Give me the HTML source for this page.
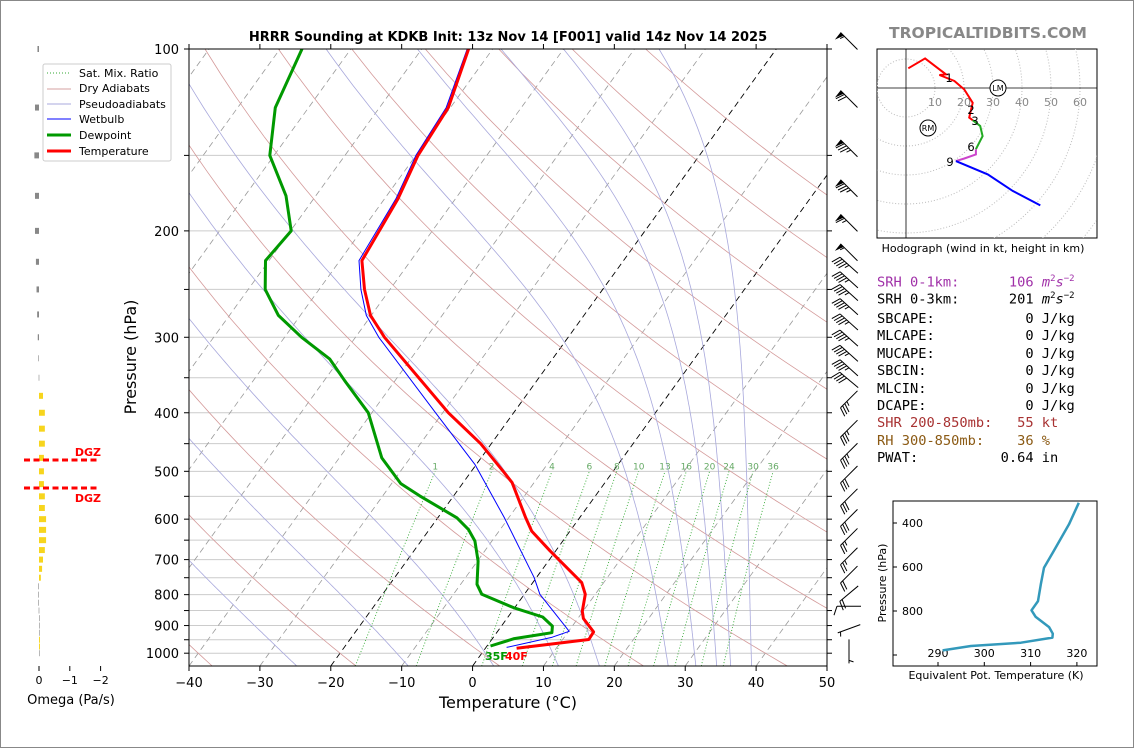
<!DOCTYPE html>
<html><head><meta charset="utf-8">
<style>
html,body{margin:0;padding:0;background:#fff;}
#fig{position:relative;width:1132px;height:746px;border:1px solid #888;overflow:hidden;font-family:"DejaVu Sans","Liberation Sans",sans-serif;}
svg{position:absolute;left:0;top:0;}
.mono{font-family:"DejaVu Sans Mono","Liberation Mono",monospace;font-size:13.7px;white-space:pre;position:absolute;left:876px;line-height:16px;}
</style></head>
<body>
<div id="fig">
<svg id="sv" width="1134" height="748" viewBox="0 0 1134 748">
<defs>
<clipPath id="cp"><rect x="188" y="48" width="638" height="617"/></clipPath>
<clipPath id="hc"><rect x="876" y="48" width="220" height="189"/></clipPath>
</defs>
<text x="507" y="40" text-anchor="middle" font-weight="bold" font-size="13">HRRR Sounding at KDKB Init: 13z Nov 14 [F001] valid 14z Nov 14 2025</text>
<text x="987" y="37" text-anchor="middle" font-weight="bold" font-size="15.5" fill="#888">TROPICALTIDBITS.COM</text>
<text x="507" y="707" text-anchor="middle" font-size="16">Temperature (°C)</text>
<text transform="translate(135,356) rotate(-90)" text-anchor="middle" font-size="16">Pressure (hPa)</text>
<text x="70" y="703" text-anchor="middle" font-size="13">Omega (Pa/s)</text>
<text x="982" y="251" text-anchor="middle" font-size="11">Hodograph (wind in kt, height in km)</text>
<text x="995" y="678" text-anchor="middle" font-size="11">Equivalent Pot. Temperature (K)</text>
<text transform="translate(885,582) rotate(-90)" text-anchor="middle" font-size="11">Pressure (hPa)</text>
<g id="plot" clip-path="url(#cp)"></g>
<g id="axes"></g>
<g id="omega"></g>
<g id="barbs"></g>
<g id="hodo"></g>
<g id="the"></g>
<g id="legend">
<rect x="42" y="63" width="128" height="97" fill="#fff" stroke="#ccc" rx="2"/>
<line x1="46" y1="72" x2="70" y2="72" stroke="#3a3" stroke-dasharray="1,2"/>
<text x="78" y="76" font-size="11">Sat. Mix. Ratio</text>
<line x1="46" y1="88" x2="70" y2="88" stroke="#d4a0a0"/>
<text x="78" y="91" font-size="11">Dry Adiabats</text>
<line x1="46" y1="103" x2="70" y2="103" stroke="#a8a8dc"/>
<text x="78" y="107" font-size="11">Pseudoadiabats</text>
<line x1="46" y1="118" x2="70" y2="118" stroke="#00f"/>
<text x="78" y="122" font-size="11">Wetbulb</text>
<line x1="46" y1="134" x2="70" y2="134" stroke="#090" stroke-width="3"/>
<text x="78" y="138" font-size="11">Dewpoint</text>
<line x1="46" y1="150" x2="70" y2="150" stroke="#f00" stroke-width="3"/>
<text x="78" y="154" font-size="11">Temperature</text>
</g>
</svg>
<div class="mono" style="top:270px;color:#a030a8">SRH 0-1km:      106 <i>m</i><sup style="font-size:9px">2</sup><i>s</i><sup style="font-size:9px">−2</sup></div>
<div class="mono" style="top:287px;color:#000">SRH 0-3km:      201 <i>m</i><sup style="font-size:9px">2</sup><i>s</i><sup style="font-size:9px">−2</sup></div>
<div class="mono" style="top:310px">SBCAPE:           0 J/kg</div>
<div class="mono" style="top:327px">MLCAPE:           0 J/kg</div>
<div class="mono" style="top:345px">MUCAPE:           0 J/kg</div>
<div class="mono" style="top:362px">SBCIN:            0 J/kg</div>
<div class="mono" style="top:380px">MLCIN:            0 J/kg</div>
<div class="mono" style="top:397px">DCAPE:            0 J/kg</div>
<div class="mono" style="top:414px;color:#a83232">SHR 200-850mb:   55 kt</div>
<div class="mono" style="top:432px;color:#8b5a14">RH 300-850mb:    36 %</div>
<div class="mono" style="top:449px">PWAT:          0.64 in</div>
</div>
<script>
// ---- data ----
const tempP = [100,125,150,177,224,250,276,300,400,450,500,522,597,628,677,764,799,852,876,922,949,981];
const tempT = [-63.4,-60.3,-59.7,-58.1,-56.9,-53.6,-50.1,-45.9,-29.2,-21.5,-15.5,-13.1,-7.6,-5.4,-0.8,6.9,8.6,9.9,10.8,13.6,13.7,4.4];
const dewP = [100,125,150,175,200,224,250,276,300,326,354,400,475,524,549,597,624,652,704,769,799,841,871,902,925,946,973];
const dewT = [-86.9,-84.7,-80.6,-74.2,-69.9,-70.5,-67.6,-63.1,-57.6,-51.4,-47.1,-40.5,-34.0,-28.7,-24.8,-17.3,-14.5,-12.4,-9.9,-7.7,-6.0,-0.1,4.9,7.2,7.8,3.1,0.5];
const wbP = [100,125,150,177,224,250,276,300,400,487,597,750,799,920,941,978];
const wbT = [-63.6,-60.6,-60.0,-58.4,-57.3,-54.1,-50.7,-46.7,-31.0,-20.2,-10.6,-0.3,2.2,10.1,8.3,2.9];
const xTicks = [-40,-30,-20,-10,0,10,20,30,40,50];
const pLabels = [100,200,300,400,500,600,700,800,900,1000];
const pGrid = [100,150,200,250,300,350,400,450,500,550,600,650,700,750,800,850,900,950,1000];
const dryT0 = [-40,-20,0,20,40,60,80,100,120,140,160,180];
const moistT0 = [-28,-12,0.5,10,16,26,30,33,35,38];
const mixW = [1,2,4,6,8,10,13,16,20,24,30,36];
const omegaP = [100,125,150,175,200,225,250,275,300,325,350,375,400,425,450,475,500,525,550,575,600,625,650,675,700,725,750,775,800,825,850,875,900,925,950,975,1000];
const omegaV = [0.05,0.13,0.15,0.13,0.13,0.1,0.08,0.06,0.04,0.02,0.01,-0.13,-0.19,-0.19,-0.19,-0.16,-0.16,-0.16,-0.19,-0.19,-0.23,-0.23,-0.23,-0.19,-0.13,-0.1,-0.06,0.02,0.02,0.02,0.01,0,0,0,-0.03,-0.03,0];
const omegaTicks = [0,-1,-2];
const barbP = [97,121,146,170,194,217,228,241,253,267,283,301,319,337,353,380,425,464,506,552,597,642,691,741,797,836,911,993];
const barbSpd = [55,70,85,85,65,55,45,45,45,45,45,45,45,45,40,35,35,35,30,30,30,25,25,20,20,10,5,5];
const barbDir = [315,315,315,315,315,315,312,312,312,312,312,312,312,312,310,225,225,225,225,225,225,225,225,225,230,270,250,180];
const hodoU = [0.8,6.6,13.8,11.5,16.7,20.1,23.0,21.8,23.0];
const hodoV = [6.8,10.2,4.7,4.5,2.4,-0.5,-5.1,-10.2,-11.1];
const hodoGU = [23.0,25.6,26.4,24.1];
const hodoGV = [-11.1,-13.1,-16.6,-21.1];
const hodoMU = [24.1,24.1,20.1,17.2];
const hodoMV = [-21.1,-22.9,-24.3,-25.2];
const hodoBU = [17.2,28.2,36.8,46.3];
const hodoBV = [-25.2,-29.8,-35.5,-40.5];
const ringKt = [10,20,30,40,50,60,70,80];
const ringLabels = [10,20,30,40,50,60];
const theP = [308,406,527,603,679,755,797,827,873,903,921,944,959,979];
const theV = [320.4,318.3,315.0,312.9,312.2,311.6,310.2,311.1,314.0,314.8,314.7,307.9,297.1,291.0];
const theXTicks = [290,300,310,320];
const theYTicks = [400,600,800];

// ---- helpers ----
const NS='http://www.w3.org/2000/svg';
function mk(tag, attrs, parent){const e=document.createElementNS(NS,tag);for(const k in attrs)e.setAttribute(k,attrs[k]);parent.appendChild(e);return e;}
function yP(p){return 48+Math.log10(p/100)/Math.log10(10.5)*617;}
function xT(T,p){return 188+(T+40)*7.089+(665-yP(p))*0.722;}
function path(pts){return pts.map((q,i)=>(i?'L':'M')+q[0].toFixed(1)+','+q[1].toFixed(1)).join('');}
const plot=document.getElementById('plot'), axes=document.getElementById('axes');

// grid
pGrid.forEach(p=>{const l=mk('line',{x1:188,x2:826,y1:yP(p),y2:yP(p),stroke:'#ccc','stroke-width':1},plot);

});
// isotherms
for(let T=-130;T<=50;T+=10){const pts=[[xT(T,1050),665],[xT(T,100),48]];
const l=mk('path',{d:path(pts),stroke:(T===0||T===-20)?'#000':'#999','stroke-width':(T===0||T===-20)?0.9:0.8,'stroke-dasharray':'6,4',fill:'none'},plot);

}
// dry adiabats
dryT0.forEach(t0=>{const th=t0+273.15;const pts=[];for(let p=1050;p>=100;p-=10){pts.push([xT(th*Math.pow(p/1000,0.2857)-273.15,p),yP(p)]);}
const l=mk('path',{d:path(pts),stroke:'#d49a9a','stroke-width':0.8,fill:'none'},plot);

});
// moist adiabats
function es(T){return 6.112*Math.exp(17.67*T/(T+243.5));}
function dTdp(T,p){const TK=T+273.15;const rs=0.622*es(T)/(p-es(T));return (287.04*TK+2.501e6*rs)/(1005.7+2.501e6*2.501e6*rs*0.622/(287.04*TK*TK))/p;}
moistT0.forEach(t0=>{let pts=[];let T=t0;for(let p=1000;p>=100;p-=5){pts.push([xT(T,p),yP(p)]);T-=dTdp(T,p)*5;}
T=t0;const low=[];for(let p=1000;p<=1050;p+=5){low.push([xT(T,p),yP(p)]);T+=dTdp(T,p)*5;}
pts=low.reverse().concat(pts);
const l=mk('path',{d:path(pts),stroke:'#a8a8dc','stroke-width':0.8,fill:'none'},plot);

});
// mixing ratio lines
function tdW(w,p){const e=w*p/(622+w);const L=Math.log(e/6.112);return 243.5*L/(17.67-L);}
mixW.forEach(w=>{const pts=[];for(let p=1050;p>=500;p-=10)pts.push([xT(tdW(w,p),p),yP(p)]);
const l=mk('path',{d:path(pts),stroke:'#3a3','stroke-width':0.9,'stroke-dasharray':'1,2',fill:'none'},plot);


const t=mk('text',{x:xT(tdW(w,500),500),y:yP(500)-2,'font-size':9,fill:'#6a6','text-anchor':'middle'},plot);t.textContent=w;

});
// profiles
function prof(P,T,col,w,name){const pts=P.map((p,i)=>[xT(T[i],p),yP(p)]);
const l=mk('path',{d:path(pts),stroke:col,'stroke-width':w,fill:'none','stroke-linejoin':'round'},plot);

}
prof(wbP,wbT,'#00f',1,'wetbulb-line');
prof(dewP,dewT,'#090',3,'dewpoint-line');
prof(tempP,tempT,'#f00',3,'temperature-line');
{const t=mk('text',{x:484,y:659,'font-size':11,'font-weight':'bold',fill:'#090'},plot);t.textContent='35F';


const t2=mk('text',{x:504,y:659,'font-size':11,'font-weight':'bold',fill:'#f00'},plot);t2.textContent='40F';

}
// axes frame
{const r=mk('rect',{x:188,y:48,width:638,height:617,fill:'none',stroke:'#000','stroke-width':1},axes);

}
xTicks.forEach(T=>{const x=188+(T+40)*7.089;
const l=mk('line',{x1:x,x2:x,y1:665,y2:670,stroke:'#000'},axes);


const l2=mk('line',{x1:x,x2:x,y1:48,y2:43,stroke:'#000'},axes);


const t=mk('text',{x:x,y:686,'font-size':13,'text-anchor':'middle'},axes);t.textContent=(T<0?'−':'')+Math.abs(T);

});
pGrid.forEach(p=>{const y=yP(p);
const l=mk('line',{x1:183,x2:188,y1:y,y2:y,stroke:'#000'},axes);


const l2=mk('line',{x1:826,x2:831,y1:y,y2:y,stroke:'#000'},axes);

});
pLabels.forEach(p=>{const t=mk('text',{x:178,y:yP(p)+5,'font-size':13,'text-anchor':'end'},axes);t.textContent=p;

});
// omega
const om=document.getElementById('omega');
function xO(v){return 38-v*30.8;}
omegaP.forEach((p,i)=>{const v=omegaV[i];const x0=Math.min(xO(0),xO(v));const w=Math.max(Math.abs(xO(v)-xO(0)),0.6);
const r=mk('rect',{x:x0,y:yP(p)-3,width:w,height:6,fill:v<0?'#f7d51d':'#888'},om);

});
omegaTicks.forEach(v=>{const l=mk('line',{x1:xO(v),x2:xO(v),y1:665,y2:670,stroke:'#000'},om);


const t=mk('text',{x:xO(v),y:683,'font-size':11,'text-anchor':'middle'},om);t.textContent=v===0?'0':'−'+Math.abs(v);

});
[459,487].forEach((y,i)=>{const l=mk('line',{x1:23,x2:99,y1:y,y2:y,stroke:'#f00','stroke-width':3,'stroke-dasharray':'6,3.5'},om);


const t=mk('text',{x:100,y:i?501:455,'font-size':11,'font-weight':'bold',fill:'#f00','text-anchor':'end'},om);t.textContent='DGZ';

});
// barbs
const bg=document.getElementById('barbs');
barbP.forEach((p,i)=>{const a=barbDir[i]*Math.PI/180;const d=[Math.sin(a),-Math.cos(a)];const L=24;
const cy=yP(p);const base=[848-d[0]*L/2,cy-d[1]*L/2];const tip=[base[0]+d[0]*L,base[1]+d[1]*L];
const g=mk('g',{},bg);


mk('line',{x1:base[0],y1:base[1],x2:tip[0],y2:tip[1],stroke:'#000','stroke-width':1},g);
const perp=[d[1],-d[0]];let s=barbSpd[i];let off=0;
while(s>=50){const a0=[tip[0]-d[0]*off,tip[1]-d[1]*off];const a1=[a0[0]-d[0]*4.5,a0[1]-d[1]*4.5];const o=[a0[0]+perp[0]*9-d[0]*1,a0[1]+perp[1]*9-d[1]*1];
mk('polygon',{points:a0.join(',')+' '+o.join(',')+' '+a1.join(','),fill:'#000'},g);off+=5.5;s-=50;}
while(s>=10){const a0=[tip[0]-d[0]*off,tip[1]-d[1]*off];mk('line',{x1:a0[0],y1:a0[1],x2:a0[0]+perp[0]*9+d[0]*3,y2:a0[1]+perp[1]*9+d[1]*3,stroke:'#000','stroke-width':1},g);off+=3;s-=10;}
if(s>=5){if(off===0)off=3;const a0=[tip[0]-d[0]*off,tip[1]-d[1]*off];mk('line',{x1:a0[0],y1:a0[1],x2:a0[0]+perp[0]*4.5+d[0]*1.5,y2:a0[1]+perp[1]*4.5+d[1]*1.5,stroke:'#000','stroke-width':1},g);}
});
// hodograph
const hg=document.getElementById('hodo');
const hx=u=>905+u*2.9, hy=v=>87-v*2.9;
{const r=mk('rect',{x:876,y:48,width:220,height:189,fill:'#fff',stroke:'#000'},hg);

}
const hcg=mk('g',{'clip-path':'url(#hc)'},hg);


ringKt.forEach(k=>{const c=mk('circle',{cx:hx(0),cy:hy(0),r:k*2.9,fill:'none',stroke:'#bbb','stroke-dasharray':'1,2'},hcg);

});
{const l=mk('line',{x1:876,x2:1096,y1:hy(0),y2:hy(0),stroke:'#000','stroke-width':0.8},hcg);


const l2=mk('line',{x1:hx(0),x2:hx(0),y1:48,y2:237,stroke:'#000','stroke-width':0.8},hcg);

}
ringLabels.forEach(k=>{const t=mk('text',{x:hx(k),y:hy(0)+18,'font-size':11,fill:'#888','text-anchor':'middle'},hcg);t.textContent=k;

});
function hseg(U,V,col,name){const l=mk('path',{d:path(U.map((u,i)=>[hx(u),hy(V[i])])),stroke:col,'stroke-width':2,fill:'none'},hcg);

}
hseg(hodoU,hodoV,'#f00','hodograph-0-3km');
hseg(hodoGU,hodoGV,'#2a2','hodograph-3-6km');
hseg(hodoMU,hodoMV,'#c4c','hodograph-6-9km');
hseg(hodoBU,hodoBV,'#00f','hodograph-9km-plus');
[['1',948,81],['2',970,113],['3',974,124],['6',970,150],['9',949,165]].forEach(a=>{const t=mk('text',{x:a[1],y:a[2],'font-size':11.5,'text-anchor':'middle'},hcg);t.textContent=a[0];

});
[['LM',997,87],['RM',927,127]].forEach(a=>{const c=mk('circle',{cx:a[1],cy:a[2],r:8,fill:'#fff',stroke:'#000'},hcg);


const t=mk('text',{x:a[1],y:a[2]+3,'font-size':8,'text-anchor':'middle'},hcg);t.textContent=a[0];

});
// theta-e inset
const tg=document.getElementById('the');
const tx=v=>937+(v-290)*4.63, ty=p=>522+(p-400)*0.22;
{const r=mk('rect',{x:892,y:500,width:204,height:165,fill:'#fff',stroke:'#000'},tg);

}
theXTicks.forEach(v=>{const l=mk('line',{x1:tx(v),x2:tx(v),y1:665,y2:661,stroke:'#000'},tg);


const t=mk('text',{x:tx(v),y:656,'font-size':11,'text-anchor':'middle'},tg);t.textContent=v;

});
theYTicks.concat([1000]).forEach(p=>{const l=mk('line',{x1:892,x2:896,y1:ty(p),y2:ty(p),stroke:'#000'},tg);

});
theYTicks.forEach(p=>{const t=mk('text',{x:901,y:ty(p)+4,'font-size':11},tg);t.textContent=p;

});
{const l=mk('path',{d:path(theP.map((p,i)=>[tx(theV[i]),ty(p)])),stroke:'#3399bb','stroke-width':2.5,fill:'none','stroke-linejoin':'round'},tg);

}
</script>
</body></html>
